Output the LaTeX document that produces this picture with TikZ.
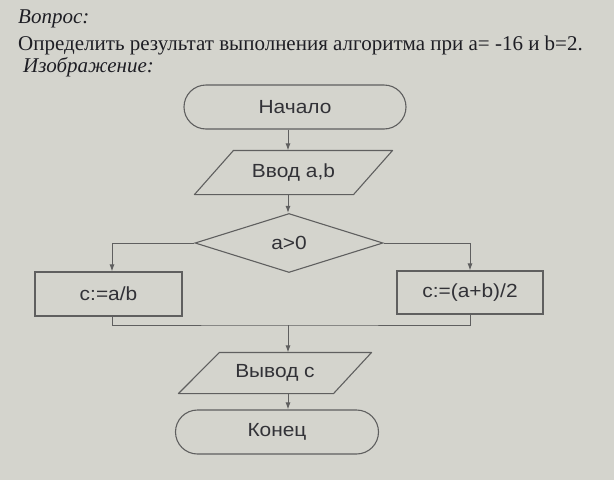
\documentclass[tikz,border=0pt]{standalone}
\usepackage{fontspec}
\setmainfont{Liberation Serif}
\newfontfamily\flowfont[FakeStretch=1.1]{Liberation Sans}
\usetikzlibrary{shapes.geometric,arrows.meta,calc}
\definecolor{bgc}{RGB}{212,212,205}
\definecolor{linec}{RGB}{95,95,95}
\definecolor{txtc}{RGB}{50,50,55}
\definecolor{headc}{RGB}{30,30,36}
\begin{document}
\begin{tikzpicture}[x=1pt,y=-1pt,
  flow/.style={draw=linec, line width=1.1pt, font=\flowfont\fontsize{19}{21}\selectfont, text=txtc, inner sep=0pt},
  term/.style={flow, rectangle, rounded corners=22pt},
  procbox/.style={flow, rectangle},
  iobox/.style={flow, draw=none, rectangle},
  decbox/.style={flow, diamond},
  shapeline/.style={draw=linec, line width=1.1pt, line join=round},
  ln/.style={draw=linec, line width=1pt},
  arr/.style={ln, -{Latex[length=7pt,width=5pt]}},
  head/.style={anchor=base west, inner sep=0pt, text=headc, font=\fontsize{21}{25}\selectfont}
]
\fill[bgc] (0,0) rectangle (614,480);
\useasboundingbox (0,0) rectangle (614,480);

\node[head, font=\fontsize{21}{25}\selectfont\itshape] (q) at (18,23) {Вопрос:};
\node[head] (t) at (18,50) {Определить результат выполнения алгоритма при a= -16 и b=2.};
\node[head, font=\fontsize{21}{25}\selectfont\itshape] (img) at (23,72) {Изображение:};

\node[term, minimum width=222pt, minimum height=44pt] (start) at (295,107) {Начало};
\node[iobox, minimum width=197pt, minimum height=43pt] (in) at (293.5,172.5) {Ввод a,b};
\draw[shapeline] (in.south west) -- ([xshift=39pt]in.north west) -- (in.north east) -- ([xshift=-39pt]in.south east) -- cycle;
\node[decbox, minimum width=188pt, minimum height=59pt] (dec) at (289,243) {a>0};
\node[procbox, minimum width=147pt, minimum height=44pt] (A) at (108.5,294) {c:=a/b};
\node[procbox, minimum width=146pt, minimum height=43pt] (B) at (470,292.5) {c:=(a+b)/2};
\node[iobox, minimum width=192pt, minimum height=40pt] (out) at (275,373) {Вывод с};
\draw[shapeline] (out.south west) -- ([xshift=41pt]out.north west) -- (out.north east) -- ([xshift=-38pt]out.south east) -- cycle;
\node[term, minimum width=203pt, minimum height=44pt] (end) at (277,432) {Конец};

\coordinate (ax) at (288,0);
\coordinate (al) at (112,0);
\coordinate (ar) at (470,0);
\coordinate (mg) at (288,325);

\draw[arr] (start.south -| ax) -- (in.north -| ax);
\draw[arr] (in.south -| ax) -- (dec.north -| ax);
\draw[arr] (dec.west) -| (A.north -| al);
\draw[arr] (dec.east) -| (B.north -| ar);
\draw[ln] (A.south -| al) |- (mg) -| (B.south -| ar);
\draw[arr] (mg) -- (out.north -| mg);
\draw[arr] (out.south -| mg) -- (end.north -| mg);
\end{tikzpicture}
\end{document}
